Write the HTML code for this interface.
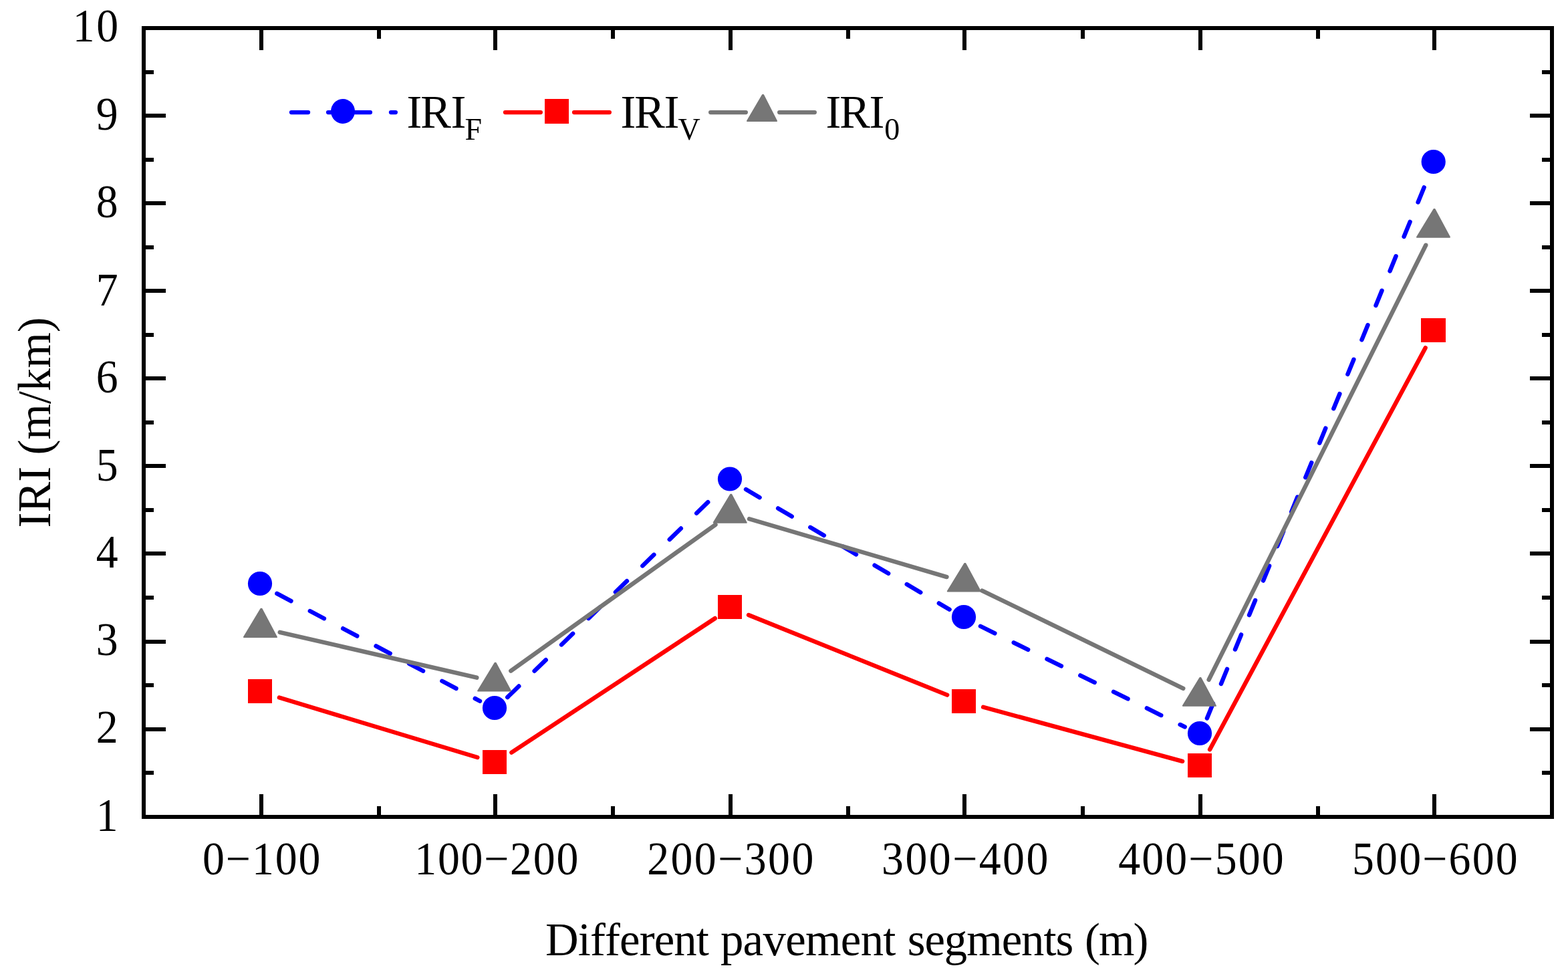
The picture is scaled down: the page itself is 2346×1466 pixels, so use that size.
<!DOCTYPE html>
<html lang="en"><head><meta charset="utf-8"><title>IRI of different pavement segments</title>
<style>html,body{margin:0;padding:0;background:#fff}body{width:2346px;height:1466px;overflow:hidden}svg{display:block}text{font-family:'Liberation Serif',serif;font-size:68.75px;fill:#000;font-variant-ligatures:none;font-kerning:none;white-space:pre}.d{font-size:70px}.s{font-size:46px}</style></head><body>
<svg width="2346" height="1466" viewBox="0 0 2346 1466" role="img" aria-label="IRI (m/km) for different pavement segments (m)">
<rect width="2346" height="1466" fill="#fff"/>
<g shape-rendering="crispEdges" fill="#000">
<rect x="212" y="39" width="2113" height="6"/>
<rect x="212" y="1219" width="2113" height="6"/>
<rect x="212" y="39" width="6" height="1186"/>
<rect x="2319" y="39" width="6" height="1186"/>
<rect x="388" y="45" width="6" height="30"/>
<rect x="388" y="1188" width="6" height="31"/>
<rect x="738" y="45" width="6" height="30"/>
<rect x="738" y="1188" width="6" height="31"/>
<rect x="1090" y="45" width="6" height="30"/>
<rect x="1090" y="1188" width="6" height="31"/>
<rect x="1440" y="45" width="6" height="30"/>
<rect x="1440" y="1188" width="6" height="31"/>
<rect x="1793" y="45" width="6" height="30"/>
<rect x="1793" y="1188" width="6" height="31"/>
<rect x="2143" y="45" width="6" height="30"/>
<rect x="2143" y="1188" width="6" height="31"/>
<rect x="564" y="45" width="6" height="13"/>
<rect x="564" y="1206" width="6" height="13"/>
<rect x="914" y="45" width="6" height="13"/>
<rect x="914" y="1206" width="6" height="13"/>
<rect x="1266" y="45" width="6" height="13"/>
<rect x="1266" y="1206" width="6" height="13"/>
<rect x="1617" y="45" width="6" height="13"/>
<rect x="1617" y="1206" width="6" height="13"/>
<rect x="1969" y="45" width="6" height="13"/>
<rect x="1969" y="1206" width="6" height="13"/>
<rect x="218" y="170" width="30" height="6"/>
<rect x="2289" y="170" width="30" height="6"/>
<rect x="218" y="301" width="30" height="6"/>
<rect x="2289" y="301" width="30" height="6"/>
<rect x="218" y="432" width="30" height="6"/>
<rect x="2289" y="432" width="30" height="6"/>
<rect x="218" y="563" width="30" height="6"/>
<rect x="2289" y="563" width="30" height="6"/>
<rect x="218" y="694" width="30" height="6"/>
<rect x="2289" y="694" width="30" height="6"/>
<rect x="218" y="825" width="30" height="6"/>
<rect x="2289" y="825" width="30" height="6"/>
<rect x="218" y="957" width="30" height="6"/>
<rect x="2289" y="957" width="30" height="6"/>
<rect x="218" y="1088" width="30" height="6"/>
<rect x="2289" y="1088" width="30" height="6"/>
<rect x="218" y="105" width="12" height="6"/>
<rect x="2307" y="105" width="12" height="6"/>
<rect x="218" y="236" width="12" height="6"/>
<rect x="2307" y="236" width="12" height="6"/>
<rect x="218" y="367" width="12" height="6"/>
<rect x="2307" y="367" width="12" height="6"/>
<rect x="218" y="498" width="12" height="6"/>
<rect x="2307" y="498" width="12" height="6"/>
<rect x="218" y="629" width="12" height="6"/>
<rect x="2307" y="629" width="12" height="6"/>
<rect x="218" y="760" width="12" height="6"/>
<rect x="2307" y="760" width="12" height="6"/>
<rect x="218" y="891" width="12" height="6"/>
<rect x="2307" y="891" width="12" height="6"/>
<rect x="218" y="1022" width="12" height="6"/>
<rect x="2307" y="1022" width="12" height="6"/>
<rect x="218" y="1153" width="12" height="6"/>
<rect x="2307" y="1153" width="12" height="6"/>
</g>
<g fill="none" stroke="#0000ff" stroke-width="6.4" stroke-linecap="round">
<line x1="414.38" y1="887.87" x2="718.01" y2="1048.77" stroke-dasharray="23.9 32"/>
<line x1="759.18" y1="1043.12" x2="1074.34" y2="736.46" stroke-dasharray="23.9 32.5"/>
<line x1="1115.98" y1="732.02" x2="1420.59" y2="911.74" stroke-dasharray="23.9 32"/>
<line x1="1466.94" y1="936.75" x2="1772.67" y2="1087.45" stroke-dasharray="23.9 31.6"/>
<line x1="1805.89" y1="1074.46" x2="2135.80" y2="267.87" stroke-dasharray="23.9 31.7"/>
</g>
<g fill="#0000ff">
<circle cx="389.00" cy="873.00" r="18.1"/>
<circle cx="740.00" cy="1059.00" r="18.1"/>
<circle cx="1092.00" cy="716.50" r="18.1"/>
<circle cx="1442.00" cy="923.00" r="18.1"/>
<circle cx="1795.00" cy="1097.00" r="18.1"/>
<circle cx="2144.70" cy="242.00" r="18.1"/>
</g>
<g fill="none" stroke="#ff0000" stroke-width="6.4" stroke-linecap="round">
<line x1="417.88" y1="1043.54" x2="714.32" y2="1133.06"/>
<line x1="765.40" y1="1125.62" x2="1069.80" y2="924.98"/>
<line x1="1120.04" y1="919.95" x2="1417.16" y2="1039.65"/>
<line x1="1471.10" y1="1057.78" x2="1769.10" y2="1138.82"/>
<line x1="1810.08" y1="1121.19" x2="2132.62" y2="520.41"/>
</g>
<g fill="#ff0000" shape-rendering="crispEdges">
<rect x="371" y="1016" width="36" height="36"/>
<rect x="722" y="1122" width="36" height="36"/>
<rect x="1074" y="890" width="36" height="36"/>
<rect x="1424" y="1031" width="36" height="36"/>
<rect x="1777" y="1127" width="36" height="36"/>
<rect x="2126" y="476" width="37" height="36"/>
</g>
<g fill="none" stroke="#767676" stroke-width="6.4" stroke-linecap="round">
<line x1="418.72" y1="945.77" x2="713.33" y2="1013.70"/>
<line x1="764.29" y1="1003.53" x2="1070.51" y2="784.80"/>
<line x1="1121.04" y1="776.27" x2="1416.46" y2="863.07"/>
<line x1="1469.43" y1="883.56" x2="1770.27" y2="1029.84"/>
<line x1="1808.63" y1="1016.80" x2="2133.27" y2="366.73"/>
</g>
<g fill="#767676" stroke="#767676" stroke-width="2" stroke-linejoin="round">
<polygon points="390.35,910.80 391.55,910.80 413.95,953.00 364.95,953.00"/>
<polygon points="740.50,991.80 741.70,991.80 764.10,1033.60 715.10,1033.60"/>
<polygon points="1093.10,739.80 1094.30,739.80 1116.70,781.80 1067.70,781.80"/>
<polygon points="1443.20,843.00 1444.40,843.00 1466.80,884.50 1417.80,884.50"/>
<polygon points="1795.30,1014.00 1796.50,1014.00 1818.90,1055.80 1769.90,1055.80"/>
<polygon points="2145.40,313.00 2146.60,313.00 2169.00,354.70 2120.00,354.70"/>
</g>
<g fill="none" stroke-width="6.25" stroke-linecap="round">
<g stroke="#0000ff"><line x1="435.93" y1="168" x2="461.07" y2="168"/><line x1="491.02" y1="168" x2="553.98" y2="168"/><line x1="584.92" y1="168" x2="591.88" y2="168"/></g>
<g stroke="#ff0000"><line x1="755.92" y1="168" x2="808.88" y2="168"/><line x1="859.02" y1="168" x2="911.88" y2="168"/></g>
<g stroke="#767676"><line x1="1063.12" y1="168" x2="1115.88" y2="168"/><line x1="1166.12" y1="168" x2="1218.88" y2="168"/></g>
</g>
<ellipse cx="513" cy="166.5" rx="18" ry="18.5" fill="#0000ff"/>
<rect x="815" y="148" width="36" height="37" fill="#ff0000" shape-rendering="crispEdges"/>
<g fill="#767676" stroke="#767676" stroke-width="2" stroke-linejoin="round"><polygon points="1140.90,141.90 1142.10,141.90 1162.00,181.00 1118.00,181.00"/></g>
<text x="608.4 628.9 674.5" y="190.9">IRI<tspan class="s" x="695.6" y="209">F</tspan></text>
<text x="928.4 948.9 993.4" y="190.9">IRI<tspan class="s" x="1014.4" y="209">V</tspan></text>
<text x="1235.5 1256 1300.6" y="190.9">IRI<tspan class="s" x="1323.2" y="209">0</tspan></text>
<text class="d" transform="scale(0.94 1)" x="170.43" y="1243.1" text-anchor="middle">1</text>
<text class="d" transform="scale(0.94 1)" x="170.43" y="1111.3" text-anchor="middle">2</text>
<text class="d" transform="scale(0.94 1)" x="170.43" y="980.2" text-anchor="middle">3</text>
<text class="d" transform="scale(0.94 1)" x="170.43" y="848.9" text-anchor="middle">4</text>
<text class="d" transform="scale(0.94 1)" x="170.43" y="718.6" text-anchor="middle">5</text>
<text class="d" transform="scale(0.94 1)" x="170.43" y="587.4" text-anchor="middle">6</text>
<text class="d" transform="scale(0.94 1)" x="170.43" y="456.9" text-anchor="middle">7</text>
<text class="d" transform="scale(0.94 1)" x="170.43" y="325.5" text-anchor="middle">8</text>
<text class="d" transform="scale(0.94 1)" x="170.43" y="194.4" text-anchor="middle">9</text>
<text class="d" transform="scale(0.94 1)" x="115.80 153.56" y="62.4">10</text>
<text class="d" transform="scale(0.94 1)" x="322.32" y="1308" style="letter-spacing:2.085px">0−100</text>
<text class="d" transform="scale(0.94 1)" x="659.85" y="1308" style="letter-spacing:1.872px">100−200</text>
<text class="d" transform="scale(0.94 1)" x="1029.98" y="1308" style="letter-spacing:2.596px">200−300</text>
<text class="d" transform="scale(0.94 1)" x="1403.28" y="1308" style="letter-spacing:2.613px">300−400</text>
<text class="d" transform="scale(0.94 1)" x="1779.96" y="1308" style="letter-spacing:2.316px">400−500</text>
<text class="d" transform="scale(0.94 1)" x="2152.06" y="1308" style="letter-spacing:2.355px">500−600</text>
<text y="1428.7"><tspan x="815.90" style="letter-spacing:-0.862px">Different </tspan><tspan x="1077.90" style="letter-spacing:-0.671px">pavement </tspan><tspan x="1357.70" style="letter-spacing:-1.043px">segments </tspan><tspan x="1622.90" style="letter-spacing:-1.900px">(m)</tspan></text>
<text transform="translate(74.8 631.9) rotate(-90)" text-anchor="middle">IRI (m/km)</text>
</svg></body></html>
